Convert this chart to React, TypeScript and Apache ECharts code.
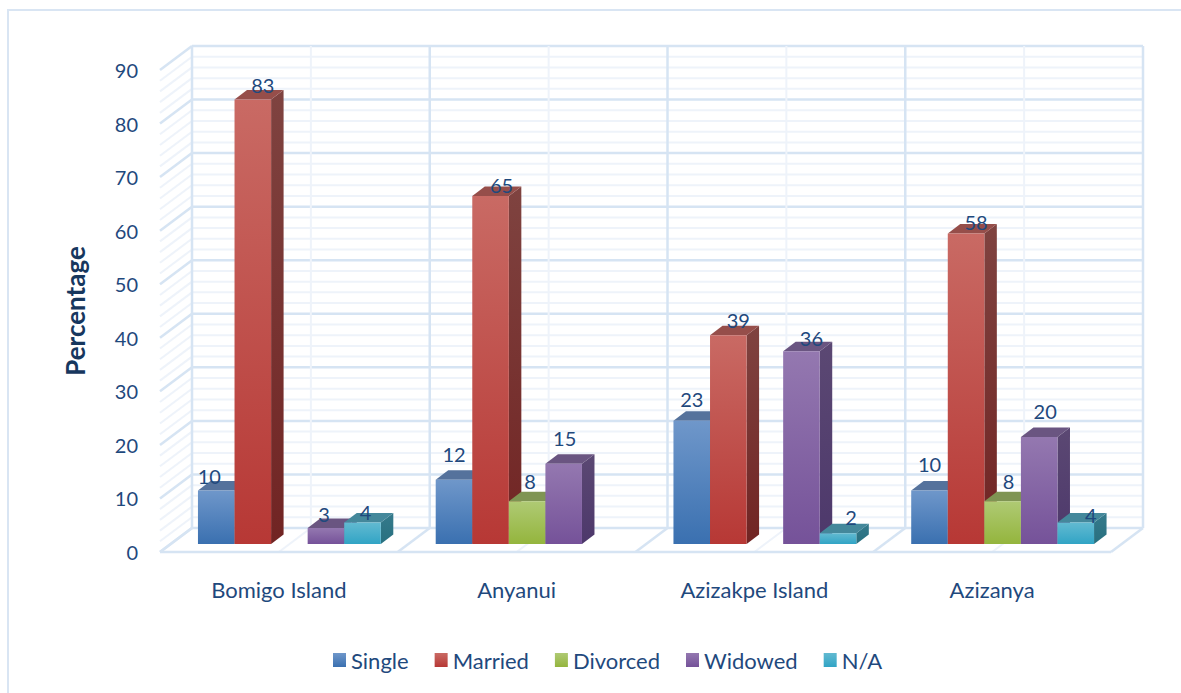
import React, { useEffect, useRef } from "react";
import * as echarts from "echarts";

const villages = ["Bomigo Island", "Anyanui", "Azizakpe Island", "Azizanya"];
const single = [10, 12, 23, 10];
const married = [83, 65, 39, 58];
const divorced = [null, 8, null, 8];
const widowed = [3, 15, 36, 20];
const notAnswered = [4, null, 2, 4];
const yTicks = [0, 10, 20, 30, 40, 50, 60, 70, 80, 90];

const seriesNames = ["Single", "Married", "Divorced", "Widowed", "N/A"];
const seriesValues = [single, married, divorced, widowed, notAnswered];

// Colours of each bar: front gradient (top, bottom), top face, side gradient
const palette = [
  { front: ["#6f97ca", "#3a70b0"], top: "#55729c", side: ["#4a6a95", "#2f5888"] },
  { front: ["#c96a64", "#b73835"], top: "#964e4a", side: ["#7f4340", "#712423"] },
  { front: ["#afca74", "#94b53d"], top: "#7f9453", side: ["#6e8348", "#5f7a2a"] },
  { front: ["#9478b0", "#755299"], top: "#6a5581", side: ["#5b4873", "#4d386b"] },
  { front: ["#62bad1", "#31a4c5"], top: "#44889b", side: ["#357a8c", "#28707f"] },
];

// Hand placement of the value labels relative to the top centre of each bar
const labelNudge = [
  [[-7, -14], [0, -26], [0, -22], [0, -26]],
  [[10, -14], [11, -11], [10, -15], [10, -11]],
  [[0, 0], [3, -20], [0, 0], [6, -20]],
  [[-2, -14], [1, -26], [10, -13], [6, -26]],
  [[3, -11], [0, 0], [13, -16], [15, -8]],
];

const TEXT = "#1f497d";
const FONT = "Lato, Carlito, Calibri, sans-serif";
const GRID = { left: 160, right: 70, top: 70, bottom: 141 };
const WALL_DX = 32;
const WALL_DY = -24;
const BAR_DX = 10.5;
const BAR_DY = -8;
const SIDE_DX = 12.5;
const SIDE_DY = -9.5;
const BAR_SHARE = 0.1538;
const MAJOR = "#d6e4f3";
const MINOR = "#eef3fa";

const vGradient = (c: string[]) =>
  new echarts.graphic.LinearGradient(0, 0, 0, 1, [
    { offset: 0, color: c[0] },
    { offset: 1, color: c[1] },
  ]);

const barRect = (api: any, row: number, value: number, s: number) => {
  const band = api.size([1, 0])[0];
  const w = band * BAR_SHARE;
  const base = api.coord([row, 0]);
  const tip = api.coord([row, value]);
  const x0 = base[0] + BAR_DX + (s - 2.5) * w;
  return { x0, x1: x0 + w, y0: base[1] + BAR_DY, y1: tip[1] + BAR_DY };
};

const renderBar = (s: number) => (_: any, api: any) => {
  const value = api.value(1);
  if (value == null || isNaN(value)) return null;
  const { x0, x1, y0, y1 } = barRect(api, api.value(0), value, s);
  const p = palette[s];
  return {
    type: "group",
    children: [
      {
        type: "polygon",
        shape: { points: [[x1, y1], [x1 + SIDE_DX, y1 + SIDE_DY], [x1 + SIDE_DX, y0 + SIDE_DY], [x1, y0]] },
        style: { fill: vGradient(p.side) },
      },
      {
        type: "polygon",
        shape: { points: [[x0, y1], [x0 + SIDE_DX, y1 + SIDE_DY], [x1 + SIDE_DX, y1 + SIDE_DY], [x1, y1]] },
        style: { fill: p.top },
      },
      {
        type: "rect",
        shape: { x: x0, y: y1, width: x1 - x0, height: y0 - y1 },
        style: { fill: vGradient(p.front) },
      },
    ],
  };
};

const renderLabel = (_: any, api: any) => {
  const row = api.value(0);
  const value = api.value(1);
  const s = api.value(2);
  const { x0, x1, y1 } = barRect(api, row, value, s);
  const [dx, dy] = labelNudge[s][row];
  return {
    type: "text",
    x: (x0 + x1) / 2 + dx,
    y: y1 + dy,
    style: {
      text: String(value),
      fill: TEXT,
      font: `20px ${FONT}`,
      align: "center",
      verticalAlign: "middle",
    },
  };
};

const seg = (a: number[], b: number[], color: string, width: number) => ({
  type: "line",
  shape: { x1: a[0], y1: a[1], x2: b[0], y2: b[1] },
  style: { stroke: color, lineWidth: width },
});

// Horizontal extent of the plot floor's front edge at a given value
const floorEnds = (api: any, v: number) => {
  const band = api.size([1, 0])[0];
  const first = api.coord([0, v]);
  const left = first[0] - band / 2;
  return { band, left, right: left + band * villages.length, y: first[1] };
};

// Left wall and back wall rules, one row per axis step of 2
const renderLevel = (_: any, api: any) => {
  const v = api.value(0);
  const major = v % 10 === 0;
  const color = major ? MAJOR : MINOR;
  const width = major ? 2.5 : 2;
  const { left, right, y } = floorEnds(api, v);
  const back = [left + WALL_DX, y + WALL_DY];
  return {
    type: "group",
    children: [seg([left, y], back, color, width), seg(back, [right + WALL_DX, y + WALL_DY], color, width)],
  };
};

// Back wall uprights and floor diagonals, one row per half category
const renderUpright = (_: any, api: any) => {
  const halves = api.value(0);
  const major = halves % 2 === 0;
  const color = major ? MAJOR : MINOR;
  const width = major ? 2.5 : 2;
  const { band, left, y } = floorEnds(api, 0);
  const top = api.coord([0, 90])[1];
  const x = left + (halves * band) / 2;
  return {
    type: "group",
    children: [
      seg([x, y], [x + WALL_DX, y + WALL_DY], color, width),
      seg([x + WALL_DX, y + WALL_DY], [x + WALL_DX, top + WALL_DY], color, width),
    ],
  };
};

const levelRows: number[][] = [];
for (let v = 90; v >= 0; v -= 2) levelRows.push([v]);
const uprightRows: number[][] = [];
for (let h = 0; h <= villages.length * 2; h += 1) uprightRows.push([h]);

const frontRule = (_: any, api: any) => {
  const { left, right, y } = floorEnds(api, 0);
  return seg([left, y], [right, y], MAJOR, 2.5);
};

const labelRows: (number | null)[][] = [];
seriesValues.forEach((values, s) =>
  values.forEach((v, row) => {
    if (v != null) labelRows.push([row, v, s]);
  })
);

export default function App() {
  const ref = useRef<HTMLDivElement>(null);

  useEffect(() => {
    document.body.style.margin = "0";
    const chart = echarts.init(ref.current!, undefined, { renderer: "svg" });
    chart.setOption({
      animation: false,
      backgroundColor: "#ffffff",
      textStyle: { fontFamily: FONT },
      grid: GRID,
      graphic: [
        {
          type: "polyline",
          shape: { points: [[8, 693], [8, 10], [1181, 10]] },
          style: { stroke: "#d9e5f3", lineWidth: 2, fill: "none" },
          silent: true,
        },
      ],
      xAxis: {
        type: "category",
        data: villages,
        axisLine: { show: false },
        axisTick: { show: false },
        axisLabel: { color: TEXT, fontSize: 22, fontFamily: FONT, margin: 26 },
      },
      yAxis: {
        type: "value",
        min: 0,
        max: 90,
        interval: 10,
        name: "Percentage",
        nameLocation: "middle",
        nameGap: 72,
        nameTextStyle: { color: "#17375e", fontSize: 26, fontWeight: "bold", fontFamily: FONT },
        axisLine: { show: false },
        axisTick: { show: false },
        splitLine: { show: false },
        axisLabel: {
          color: TEXT,
          fontSize: 20,
          fontFamily: FONT,
          margin: 22,
          customValues: yTicks,
          padding: [0, 0, 6, 0],
        },
      },
      legend: {
        bottom: 22,
        left: 333,
        padding: 0,
        icon: "rect",
        itemWidth: 13,
        itemHeight: 14,
        itemGap: 26,
        textStyle: { color: TEXT, fontSize: 22, fontFamily: FONT },
        selectedMode: false,
        data: seriesNames.map((name, s) => ({
          name,
          itemStyle: { color: vGradient(palette[s].front) },
        })),
      },
      series: [
        { type: "custom", name: "levels", z: 1, silent: true, renderItem: renderLevel, data: levelRows, encode: { y: 0 } },
        { type: "custom", name: "uprights", z: 1, silent: true, renderItem: renderUpright, data: uprightRows },
        { type: "custom", name: "front", z: 1, silent: true, renderItem: frontRule, data: [[0]] },
        ...seriesNames.map((name, s) => ({
          type: "custom",
          name,
          z: 2,
          itemStyle: { color: palette[s].front[1] },
          renderItem: renderBar(s),
          data: seriesValues[s].map((v, row) => [row, v]),
          encode: { x: 0, y: 1 },
        })),
        { type: "custom", name: "values", z: 3, silent: true, renderItem: renderLabel, data: labelRows, encode: { x: 0, y: 1 } },
      ],
    });
    return () => chart.dispose();
  }, []);

  return <div ref={ref} style={{ width: 1181, height: 693 }} />;
}
